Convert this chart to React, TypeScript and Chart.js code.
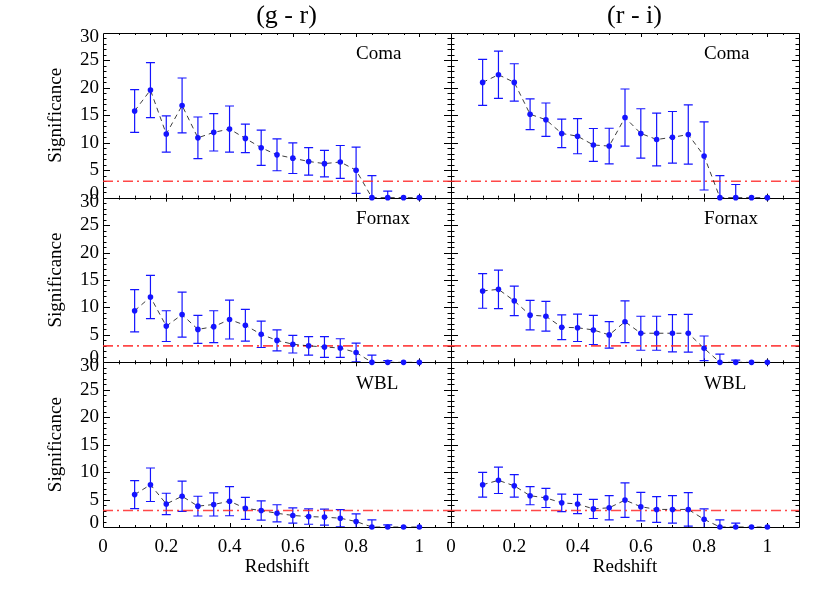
import React, { useEffect, useRef } from 'react';
import { Chart, registerables } from 'chart.js';

Chart.register(...registerables);

// ---- data ----
const redshift = [0.1, 0.15, 0.2, 0.25, 0.3, 0.35, 0.4, 0.45, 0.5, 0.55, 0.6, 0.65, 0.7, 0.75, 0.8, 0.85, 0.9, 0.95, 1.0];

const comaGR = [15.8, 19.6, 11.6, 16.8, 10.9, 11.9, 12.5, 10.8, 9.1, 7.8, 7.2, 6.6, 6.2, 6.5, 5.0, 0, 0, 0, 0];
const comaGRErr = [3.9, 5.0, 3.3, 5.0, 3.8, 3.4, 4.2, 2.6, 3.2, 2.9, 2.8, 2.5, 2.4, 3.0, 4.2, 4.0, 1.2, 0, 0];
const comaRI = [21.0, 22.4, 21.0, 15.2, 14.2, 11.7, 11.2, 9.6, 9.4, 14.6, 11.7, 10.6, 11.0, 11.5, 7.6, 0, 0, 0, 0];
const comaRIErr = [4.2, 4.3, 3.4, 2.8, 3.05, 2.6, 3.2, 3.0, 3.25, 5.2, 4.5, 4.8, 4.7, 5.4, 6.2, 4.0, 2.4, 0, 0];
const fornaxGR = [9.4, 11.9, 6.6, 8.7, 6.0, 6.5, 7.8, 6.75, 5.1, 4.0, 3.3, 3.0, 2.8, 2.6, 1.8, 0, 0, 0, 0];
const fornaxGRErr = [3.85, 3.95, 2.8, 4.1, 2.55, 2.9, 3.55, 2.9, 2.4, 1.9, 1.6, 1.7, 1.9, 1.7, 1.7, 1.3, 0.3, 0, 0];
const fornaxRI = [13.0, 13.3, 11.2, 8.6, 8.4, 6.4, 6.3, 5.9, 5.0, 7.4, 5.3, 5.3, 5.3, 5.3, 2.55, 0, 0, 0, 0];
const fornaxRIErr = [3.15, 3.5, 2.7, 2.7, 2.7, 2.25, 2.5, 2.65, 2.4, 3.8, 3.1, 3.1, 3.4, 3.45, 2.25, 1.5, 0.4, 0, 0];
const wblGR = [5.9, 7.7, 4.2, 5.6, 3.8, 4.1, 4.7, 3.4, 3.0, 2.5, 2.1, 1.9, 1.8, 1.6, 1.0, 0, 0, 0, 0];
const wblGRErr = [2.55, 3.05, 1.95, 2.75, 1.8, 2.1, 2.65, 2.0, 1.75, 1.55, 1.4, 1.4, 1.45, 1.55, 1.4, 1.3, 0.4, 0, 0];
const wblRI = [7.7, 8.5, 7.5, 5.7, 5.3, 4.4, 4.2, 3.3, 3.5, 4.9, 3.7, 3.2, 3.2, 3.2, 1.4, 0, 0, 0, 0];
const wblRIErr = [2.25, 2.4, 2.05, 1.65, 1.75, 1.6, 1.75, 1.75, 2.2, 3.15, 2.6, 2.35, 2.5, 3.05, 1.9, 1.3, 0.7, 0, 0];

const threshold = 3;
const clusterNames = ['Coma', 'Fornax', 'WBL'];
const columnTitles = ['(g - r)', '(r - i)'];
const xTickValues = [0, 0.2, 0.4, 0.6, 0.8, 1];
const yTickValues = [0, 5, 10, 15, 20, 25, 30];
const xRange = [0, 1.1];
const yRange = [0, 30];
const xMinorStep = 0.05;
const yMinorStep = 1;
const xAxisTitle = 'Redshift';
const yAxisTitle = 'Significance';

// ---- styling ----
const serif = "'Liberation Serif', 'Times New Roman', Times, serif";
const BLUE = 'rgb(20,20,255)';

const xIds = ['xa', 'xb'];

const panels = [
  { x: 'xa', y: 'ya', vals: comaGR, errs: comaGRErr, name: clusterNames[0] },
  { x: 'xb', y: 'ya', vals: comaRI, errs: comaRIErr, name: clusterNames[0] },
  { x: 'xa', y: 'yb', vals: fornaxGR, errs: fornaxGRErr, name: clusterNames[1] },
  { x: 'xb', y: 'yb', vals: fornaxRI, errs: fornaxRIErr, name: clusterNames[1] },
  { x: 'xa', y: 'yc', vals: wblGR, errs: wblGRErr, name: clusterNames[2] },
  { x: 'xb', y: 'yc', vals: wblRI, errs: wblRIErr, name: clusterNames[2] },
];

const panelPlugin = {
  id: 'panelDecor',
  beforeDatasetsDraw(chart: any) {
    const ctx = chart.ctx as CanvasRenderingContext2D;
    ctx.save();
    for (const p of panels) {
      const xs = chart.scales[p.x];
      const ys = chart.scales[p.y];
      const L = xs.left, R = xs.right, T = ys.top, B = ys.bottom;
      // frame
      ctx.strokeStyle = '#000';
      ctx.lineWidth = 1;
      ctx.beginPath();
      ctx.rect(Math.round(L) + 0.5, Math.round(T) + 0.5, Math.round(R) - Math.round(L), Math.round(B) - Math.round(T));
      ctx.stroke();
      // x ticks (inward, top and bottom)
      ctx.beginPath();
      const nx = Math.round((xRange[1] - xRange[0]) / xMinorStep);
      for (let i = 1; i < nx; i++) {
        const v = xRange[0] + i * xMinorStep;
        const major = Math.abs(v / 0.2 - Math.round(v / 0.2)) < 1e-6;
        const len = major ? 4 : 2;
        const px = Math.round(xs.getPixelForValue(v)) + 0.5;
        ctx.moveTo(px, B);
        ctx.lineTo(px, B - len);
        ctx.moveTo(px, T);
        ctx.lineTo(px, T + len);
      }
      // y ticks (inward, left and right)
      const ny = Math.round((yRange[1] - yRange[0]) / yMinorStep);
      for (let i = 1; i < ny; i++) {
        const v = yRange[0] + i * yMinorStep;
        const major = v % 5 === 0;
        const len = major ? 7 : 3.5;
        const py = Math.round(ys.getPixelForValue(v)) + 0.5;
        ctx.moveTo(L, py);
        ctx.lineTo(L + len, py);
        ctx.moveTo(R, py);
        ctx.lineTo(R - len, py);
      }
      ctx.stroke();

      // error bars (clipped to the panel)
      ctx.save();
      ctx.beginPath();
      ctx.rect(L, T, R - L, B - T);
      ctx.clip();
      ctx.strokeStyle = BLUE;
      ctx.lineWidth = 1.2;
      ctx.beginPath();
      for (let i = 0; i < redshift.length; i++) {
        const e = p.errs[i];
        if (!e) continue;
        const px = xs.getPixelForValue(redshift[i]);
        const y1 = ys.getPixelForValue(p.vals[i] + e);
        const y2 = ys.getPixelForValue(p.vals[i] - e);
        ctx.moveTo(px, y1);
        ctx.lineTo(px, y2);
        ctx.moveTo(px - 4.5, y1);
        ctx.lineTo(px + 4.5, y1);
        ctx.moveTo(px - 4.5, y2);
        ctx.lineTo(px + 4.5, y2);
      }
      ctx.stroke();
      ctx.restore();
    }
    ctx.restore();
  },
  afterDatasetsDraw(chart: any) {
    const ctx = chart.ctx as CanvasRenderingContext2D;
    ctx.save();
    ctx.fillStyle = '#000';
    ctx.font = `19px ${serif}`;
    ctx.textAlign = 'left';
    ctx.textBaseline = 'middle';
    for (const p of panels) {
      const xs = chart.scales[p.x];
      const ys = chart.scales[p.y];
      ctx.fillText(p.name, xs.getPixelForValue(0.8), ys.getPixelForValue(26.1));
    }
    ctx.font = `26px ${serif}`;
    ctx.textAlign = 'center';
    xIds.forEach((id, i) => {
      const xs = chart.scales[id];
      ctx.fillText(columnTitles[i], xs.getPixelForValue(0.58), 16);
    });
    ctx.restore();
  },
};

function makeX() {
  return {
    type: 'linear',
    position: 'bottom',
    stack: 'cols',
    stackWeight: 1,
    min: xRange[0],
    max: xRange[1],
    grid: { display: false, drawTicks: false },
    border: { display: false },
    afterBuildTicks: (s: any) => {
      s.ticks = xTickValues.map((v) => ({ value: v }));
    },
    afterFit: (s: any) => {
      s.height = 66;
    },
    ticks: {
      autoSkip: false,
      maxRotation: 0,
      padding: 9,
      color: '#000',
      font: { family: serif, size: 19 },
      callback: (_v: any, i: number) => String(xTickValues[i]),
    },
    title: {
      display: true,
      text: xAxisTitle,
      color: '#000',
      font: { family: serif, size: 19 },
      padding: { top: 0, bottom: 15 },
    },
  };
}

// end labels sit slightly inside the panel, as in the original plot
const endLabelInset = 0.75;

function makeY(weight: number) {
  return {
    type: 'linear',
    position: 'left',
    stack: 'rows',
    stackWeight: 1,
    weight,
    min: yRange[0],
    max: yRange[1],
    grid: { display: false, drawTicks: false },
    border: { display: false },
    afterBuildTicks: (s: any) => {
      s.ticks = yTickValues.map((v) => ({
        value: v === yRange[0] ? v + endLabelInset : v === yRange[1] ? v - endLabelInset : v,
      }));
    },
    afterFit: (s: any) => {
      s.width = 103;
    },
    ticks: {
      autoSkip: false,
      padding: 4,
      color: '#000',
      font: { family: serif, size: 19 },
      callback: (_v: any, i: number) => String(yTickValues[i]),
    },
    title: {
      display: true,
      text: yAxisTitle,
      color: '#000',
      font: { family: serif, size: 19 },
      padding: { top: 45, bottom: 0 },
    },
  };
}

export default function App() {
  const ref = useRef<HTMLCanvasElement>(null);
  useEffect(() => {
    const canvas = ref.current;
    if (!canvas) return;
    const datasets: any[] = [];
    for (const p of panels) {
      datasets.push({
        label: p.name,
        xAxisID: p.x,
        yAxisID: p.y,
        data: redshift.map((x, i) => ({ x, y: p.vals[i] })),
        showLine: true,
        borderColor: 'rgba(0,0,0,0.85)',
        borderWidth: 0.9,
        borderDash: [5, 4],
        pointRadius: 2.8,
        pointBackgroundColor: BLUE,
        pointBorderWidth: 0,
        clip: false,
      });
    }
    for (const p of panels) {
      datasets.push({
        label: 'threshold',
        xAxisID: p.x,
        yAxisID: p.y,
        data: [
          { x: xRange[0], y: threshold },
          { x: xRange[1], y: threshold },
        ],
        showLine: true,
        borderColor: 'rgba(255,40,40,0.85)',
        borderWidth: 1.6,
        borderDash: [10, 4, 2, 4],
        pointRadius: 0,
      });
    }
    const scales: any = {
      xa: makeX(),
      xb: makeX(),
      ya: makeY(3),
      yb: makeY(2),
      yc: makeY(1),
    };
    const chart = new Chart(canvas, {
      type: 'scatter',
      data: { datasets },
      options: {
        responsive: false,
        devicePixelRatio: 1,
        animation: false,
        events: [],
        layout: { padding: { left: 0, top: 33, right: 31, bottom: 0 } },
        plugins: { legend: { display: false }, tooltip: { enabled: false } },
        scales,
      },
      plugins: [panelPlugin],
    } as any);
    return () => chart.destroy();
  }, []);
  return (
    <div style={{ position: 'absolute', left: 0, top: 0, width: 830, height: 593, background: '#fff' }}>
      <canvas ref={ref} width={830} height={593} style={{ display: 'block', width: 830, height: 593 }} />
    </div>
  );
}
